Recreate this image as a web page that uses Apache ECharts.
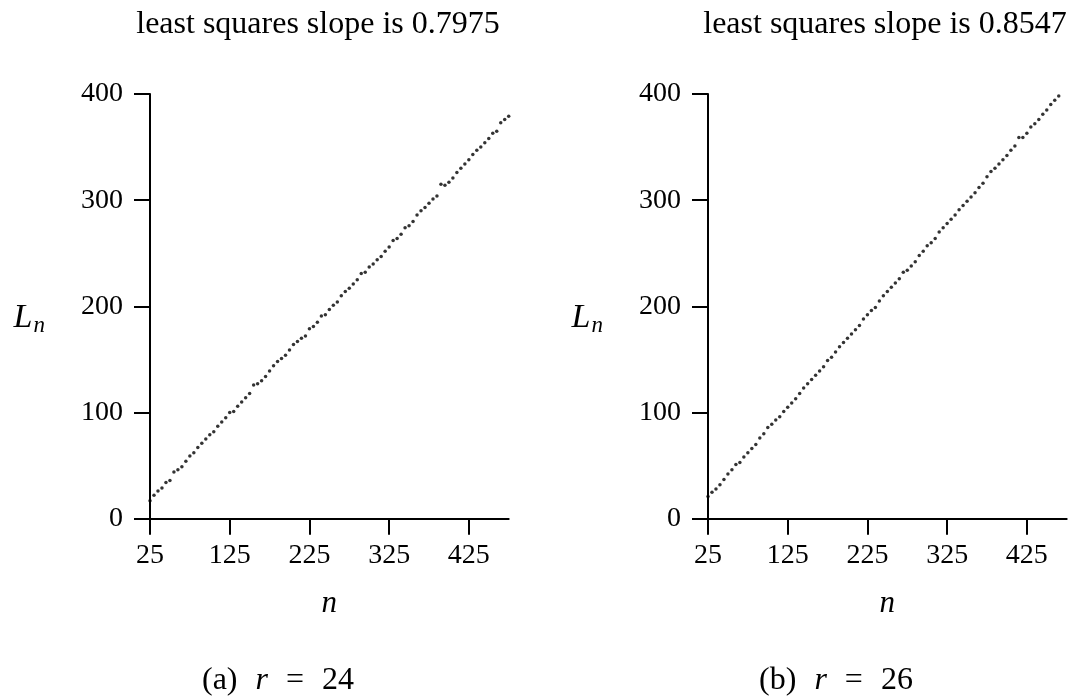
<!DOCTYPE html>
<html>
<head>
<meta charset="utf-8">
<script src="https://cdn.jsdelivr.net/npm/echarts@6/dist/echarts.min.js"></script>
<style>
  html, body { margin: 0; padding: 0; background: #fff; }
  #chart { width: 1081px; height: 696px; }
</style>
</head>
<body>
<div id="chart"></div>
<script>
// Sample sizes n (shared by both panels)
const nValues = [25,30,35,40,45,50,55,60,65,70,75,80,85,90,95,100,105,110,115,120,
  125,130,135,140,145,150,155,160,165,170,175,180,185,190,195,200,205,210,215,220,
  225,230,235,240,245,250,255,260,265,270,275,280,285,290,295,300,305,310,315,320,
  325,330,335,340,345,350,355,360,365,370,375,380,385,390,395,400,405,410,415,420,
  425,430,435,440,445,450,455,460,465,470,475];

// L_n for r = 24
const lengthsR24 = [17,22,26,29,34,36,44,46,49,54,
  59,62,67,71,75,79,82,87,91,95,
  100,101,106,110,114,118,126,127,130,134,
  139,144,148,151,154,159,164,167,170,172,
  179,181,185,191,192,197,201,204,210,214,
  217,221,225,231,232,237,240,244,247,252,
  256,262,264,268,274,276,280,286,290,293,
  297,301,304,315,314,317,321,326,330,334,
  338,343,347,350,354,358,363,365,373,376,
  379];

// L_n for r = 26
const lengthsR26 = [21,25,28,32,37,42,46,51,53,58,
  62,66,70,76,80,86,89,93,96,101,
  105,109,113,118,123,127,131,135,139,143,
  149,152,157,162,166,170,174,178,182,188,
  192,196,199,205,210,214,218,222,226,232,
  234,238,242,248,252,257,260,264,270,274,
  278,282,286,291,295,299,303,307,312,316,
  322,327,330,334,338,342,347,351,359,359,
  363,369,372,376,381,385,390,394,398,402,
  406];

const xTicks = [25, 125, 225, 325, 425];
const yTicks = [0, 100, 200, 300, 400];
const panelTitles = ['least squares slope is 0.7975', 'least squares slope is 0.8547'];
const captionLabels = ['(a)', '(b)'];
const captionValues = ['24', '26'];

const FONT = '"Liberation Serif", "DejaVu Serif", serif';
const INK = '#000';

const panels = [
  { left: 150, titleX: 318, captionX: 278, data: lengthsR24 },
  { left: 708, titleX: 885, captionX: 836, data: lengthsR26 }
];
const plotW = 358.7, plotTop = 94, plotH = 424.7;

const grids = [], xAxes = [], yAxes = [], series = [], titles = [];
panels.forEach((p, i) => {
  grids.push({ left: p.left, top: plotTop, width: plotW, height: plotH,
    containLabel: false, outerBoundsMode: 'none', show: false });

  xAxes.push({
    type: 'value', gridIndex: i, min: 25, max: 475,
    axisLine: { show: true, onZero: false, lineStyle: { color: INK, width: 2 } },
    axisTick: { show: true, length: 16, customValues: xTicks, lineStyle: { color: INK, width: 2 } },
    axisLabel: { show: true, customValues: xTicks, margin: 23, color: INK,
      fontFamily: FONT, fontSize: 28 },
    splitLine: { show: false },
    name: 'n', nameLocation: 'middle', nameGap: 70,
    nameTextStyle: { fontFamily: FONT, fontStyle: 'italic', fontSize: 31, color: INK }
  });

  yAxes.push({
    type: 'value', gridIndex: i, min: 0, max: 400, interval: 100,
    axisLine: { show: true, onZero: false, lineStyle: { color: INK, width: 2 } },
    axisTick: { show: true, length: 16, lineStyle: { color: INK, width: 2 } },
    axisLabel: { show: true, margin: 27, color: INK, fontFamily: FONT, fontSize: 28,
      formatter: v => (yTicks.indexOf(v) >= 0 ? String(v) : '') },
    splitLine: { show: false },
    name: '{L|L}{s|n}', nameLocation: 'middle', nameRotate: 0, nameGap: 105,
    nameTextStyle: {
      padding: [24, 0, 0, 0],
      rich: {
        L: { fontFamily: FONT, fontStyle: 'italic', fontSize: 34, color: INK },
        s: { fontFamily: FONT, fontStyle: 'italic', fontSize: 23, color: INK, padding: [15, 0, 0, 1] }
      }
    }
  });

  series.push({
    type: 'scatter', xAxisIndex: i, yAxisIndex: i,
    data: nValues.map((n, k) => [n, p.data[k]]),
    symbol: 'circle', symbolSize: 3.5,
    itemStyle: { color: INK },
    silent: true, animation: false
  });

  titles.push({
    text: panelTitles[i], left: p.titleX, top: 9, textAlign: 'center', padding: 0,
    textStyle: { fontFamily: FONT, fontWeight: 'normal', fontSize: 32, color: INK }
  });
  titles.push({
    text: '{t|' + captionLabels[i] + '}{v|r}{e|=}{t|' + captionValues[i] + '}',
    left: p.captionX, top: 665, textAlign: 'center', padding: 0,
    textStyle: {
      fontWeight: 'normal',
      rich: {
        t: { fontFamily: FONT, fontWeight: 'normal', fontSize: 32, color: INK },
        v: { fontFamily: FONT, fontWeight: 'normal', fontStyle: 'italic', fontSize: 32, color: INK,
          padding: [0, 0, 0, 18] },
        e: { fontFamily: FONT, fontWeight: 'normal', fontSize: 32, color: INK,
          padding: [0, 18, 0, 18] }
      }
    }
  });
});

const chart = echarts.init(document.getElementById('chart'), null, { renderer: 'canvas' });
chart.setOption({
  animation: false,
  backgroundColor: '#fff',
  title: titles,
  grid: grids,
  xAxis: xAxes,
  yAxis: yAxes,
  series: series
});
</script>
</body>
</html>
